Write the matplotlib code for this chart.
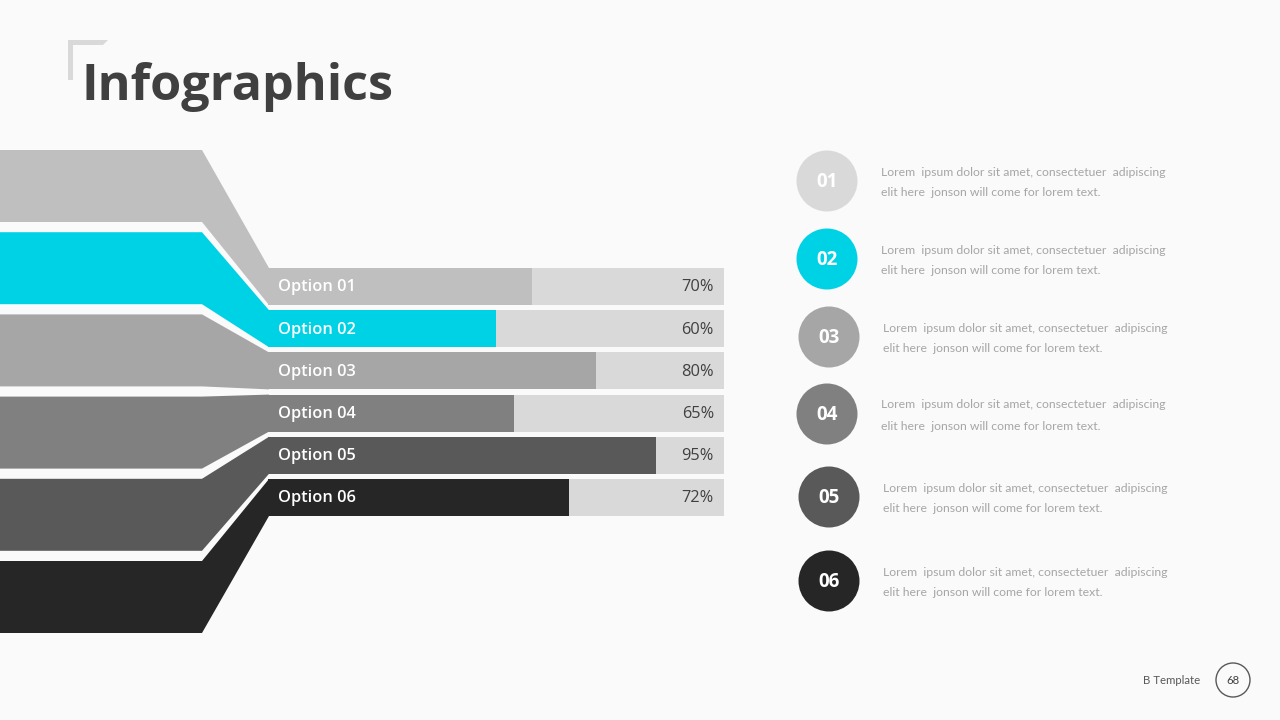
import matplotlib
matplotlib.use("Agg")
import matplotlib.pyplot as plt
from matplotlib.patches import Polygon, Circle, Rectangle

# ---------------- data ----------------
options = ["Option 01", "Option 02", "Option 03", "Option 04", "Option 05", "Option 06"]
pct_labels = ["70%", "60%", "80%", "65%", "95%", "72%"]
fill_values = [58, 50, 72, 54, 85, 66]          # bar fill lengths as drawn (0-100 track)
numbers = ["01", "02", "03", "04", "05", "06"]
band_colors = ["#BFBFBF", "#00D2E6", "#A6A6A6", "#808080", "#595959", "#262626"]
circle_colors = ["#D9D9D9", "#00D2E6", "#A6A6A6", "#808080", "#595959", "#262626"]
desc_line1 = "Lorem  ipsum dolor sit amet, consectetuer  adipiscing"
desc_line2 = "elit here  jonson will come for lorem text."
title = "Infographics"
footer = "B Template"
page = "68"

BG = "#FAFAFA"
TRACK = "#D9D9D9"

fig = plt.figure(figsize=(12.8, 7.2), dpi=100, facecolor=BG)
ax = fig.add_axes([0, 0, 1, 1])
ax.set_xlim(0, 1280)
ax.set_ylim(720, 0)
ax.axis("off")
ax.set_facecolor(BG)

# title bracket
ax.add_patch(Polygon([(68, 40), (108, 40), (103, 45), (73, 45), (73, 80), (68, 80)],
                     closed=True, facecolor="#D9D9D9", edgecolor="none"))
ax.text(82, 100, title, fontsize=36.3, fontweight="bold", color="#404040",
        family="Open Sans", ha="left", va="baseline")

# ribbons on the left
left_top0, left_h, left_step = 150, 72, 82.2
bar_top0, bar_h, bar_step = 268, 37, 42.2
x_left, x_bend, x_bar = 0, 202, 268
for i, c in enumerate(band_colors):
    lt = left_top0 + i * left_step
    lb = lt + left_h
    bt = bar_top0 + i * bar_step
    bb = bt + bar_h
    ax.add_patch(Polygon([(x_left, lt), (x_bend, lt), (x_bar + 1, bt), (x_bar + 1, bb),
                          (x_bend, lb), (x_left, lb)], closed=True,
                         facecolor=c, edgecolor="none"))

# bar axes
bx0, bx1 = 268, 724
by0, by1 = 268, 516
bax = fig.add_axes([bx0 / 1280, 1 - by1 / 720, (bx1 - bx0) / 1280, (by1 - by0) / 720])
bax.set_facecolor("none")
bax.axis("off")
n = len(options)
frac = bar_h / bar_step
bax.set_xlim(0, 100)
bax.set_ylim(n - 1 + frac / 2, -frac / 2)
ys = list(range(n))
bax.barh(ys, [100] * n, height=frac, color=TRACK, edgecolor="none")
bax.barh(ys, fill_values, height=frac, color=band_colors, edgecolor="none")
for y, lab, p in zip(ys, options, pct_labels):
    bax.text(2.2, y + 0.02, lab, color="white", fontsize=11.8, fontweight="semibold",
             family="Open Sans", ha="left", va="center")
    bax.text(97.8, y + 0.02, p, color="#404040", fontsize=11.8, family="Open Sans",
             ha="right", va="center")

# circles with descriptions
cy_list = [181, 259, 337, 414, 497, 581]
cx_list = [827, 827, 829, 827, 829, 829]
for cx, cy, c, num in zip(cx_list, cy_list, circle_colors, numbers):
    ax.add_patch(Circle((cx, cy), 30.5, facecolor=c, edgecolor="none"))
    ax.text(cx, cy + 1, num, color="white", fontsize=13.5, fontweight="bold",
            family="Open Sans", ha="center", va="center")
    ax.text(cx + 54, cy - 9, desc_line1, color="#A6A6A6", fontsize=8.8,
            family="Lato", ha="left", va="center")
    ax.text(cx + 54, cy + 12, desc_line2, color="#A6A6A6", fontsize=8.8,
            family="Lato", ha="left", va="center")

# footer
ax.text(1200, 680, footer, color="#595959", fontsize=8.2, family="Lato",
        ha="right", va="center")
ax.add_patch(Circle((1233, 680), 17, facecolor="none", edgecolor="#595959", linewidth=1))
ax.text(1233, 680, page, color="#404040", fontsize=8.2, family="Lato",
        ha="center", va="center")

fig.savefig("out.png", dpi=100, facecolor=BG)
